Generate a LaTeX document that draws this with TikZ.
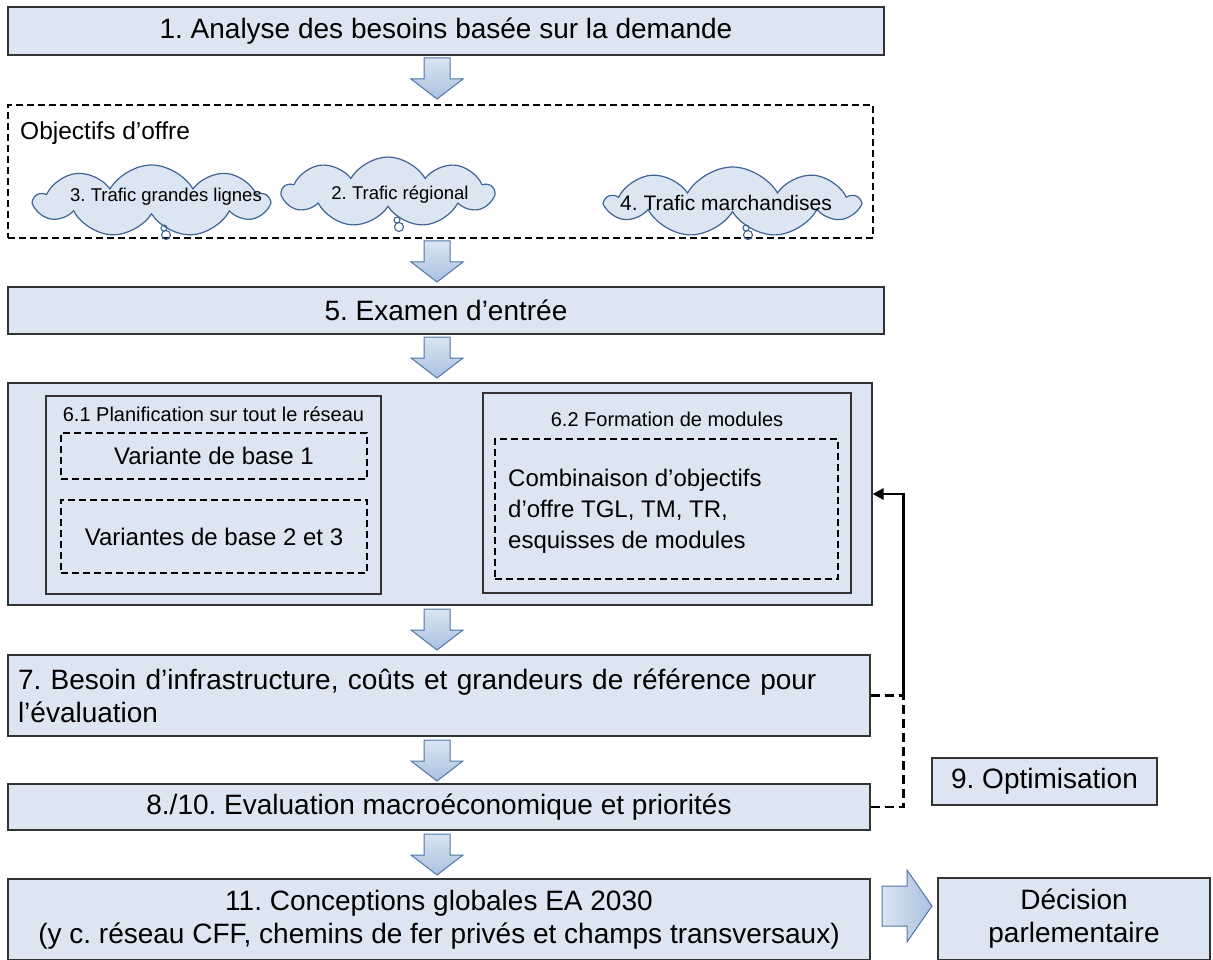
\documentclass[tikz,border=0pt]{standalone}
\usepackage{fontspec}
\setmainfont{Liberation Sans}
\frenchspacing
\usetikzlibrary{shapes.symbols,arrows.meta,calc}
\definecolor{boxfill}{HTML}{DCE6F2}
\definecolor{boxline}{HTML}{333333}
\definecolor{arrline}{HTML}{4F76A8}
\definecolor{arrtop}{HTML}{DAE5F2}
\definecolor{arrbot}{HTML}{A9C1DF}
\definecolor{cloudline}{HTML}{3E6496}
\tikzset{
  box/.style={draw=boxline, line width=1.2pt, fill=boxfill, inner sep=0pt, align=center,
    font=\fontsize{28}{33}\selectfont},
  inbox/.style={draw=boxline, line width=1.2pt, inner sep=0pt},
  dbox/.style={draw=black, line width=1.5pt, dash pattern=on 7pt off 4pt, inner sep=0pt, align=center,
    font=\fontsize{24}{31}\selectfont},
  lbl/.style={inner sep=0pt, font=\fontsize{20}{24}\selectfont},
  blockarrow/.style={draw=arrline, line width=1pt, line join=miter},
  cloudsh/.style={cloud, cloud puffs=9, cloud puff arc=120, cloud ignores aspect, draw=cloudline,
    line width=1.2pt, fill=boxfill, inner sep=0pt},
  cloudtxt/.style={inner sep=0pt, font=\fontsize{18.5}{22}\selectfont},
  bubble/.style={draw=cloudline, line width=1.1pt},
  fb/.style={line width=2.8pt, black},
  fbdash/.style={line width=2.8pt, black, dash pattern=on 9pt off 5pt},
}
\newcommand\blockdown[2]{%
  \path[blockarrow, top color=arrtop, bottom color=arrbot]
    (#1-13,#2) -- (#1+13,#2) -- (#1+13,#2+21) -- (#1+26,#2+21) -- (#1,#2+41)
    -- (#1-26,#2+21) -- (#1-13,#2+21) -- cycle;}
\begin{document}
\begin{tikzpicture}[x=1pt,y=-1pt]
\useasboundingbox (0,0) rectangle (1213,960);

% main boxes
\node[box, minimum width=876pt, minimum height=48pt] (b1) at (446,31) {1. Analyse des besoins basée sur la demande};

\node[dbox, minimum width=865pt, minimum height=133pt] (obj) at (440.5,171.5) {};
\node[inner sep=0pt, anchor=west, font=\fontsize{24.5}{28}\selectfont] (objt) at (20,133) {Objectifs d’offre};

% clouds
\node[cloudsh, minimum width=233pt, minimum height=72pt] (c1) at (151.5,201) {};
\node[cloudsh, minimum width=210pt, minimum height=70pt] (c2) at (388,192) {};
\node[cloudsh, minimum width=251pt, minimum height=70pt] (c3) at (732.5,202) {};
\draw[bubble] (164,228) circle[radius=3pt] (166,235) circle[radius=4.5pt];
\draw[bubble] (397,220) circle[radius=3pt] (399,227) circle[radius=4.5pt];
\draw[bubble] (746,228) circle[radius=3pt] (748,235) circle[radius=4.5pt];
\node[cloudtxt] (t1) at (166,197) {3. Trafic grandes lignes};
\node[cloudtxt] (t2) at (400,195) {2. Trafic régional};
\node[cloudtxt, font=\fontsize{21}{24}\selectfont] (t3) at (726,203) {4. Trafic marchandises};

\node[box, minimum width=876pt, minimum height=47pt] (b5) at (446,310.5) {5. Examen d’entrée};

% box 6
\node[box, minimum width=864pt, minimum height=222pt] (b6) at (440,494) {};
\node[inbox, minimum width=335pt, minimum height=198pt] (b61) at (213.5,495) {};
\node[inbox, minimum width=368pt, minimum height=200pt] (b62) at (667,493) {};
\node[lbl] (l61) at (213.5,414) {6.1 Planification sur tout le réseau};
\node[lbl] (l62) at (667,419) {6.2 Formation de modules};
\node[dbox, minimum width=306pt, minimum height=46pt] (v1) at (214,456) {Variante de base 1};
\node[dbox, minimum width=306pt, minimum height=73pt] (v23) at (214,536.5) {Variantes de base 2 et 3};
\node[dbox, minimum width=343pt, minimum height=140pt] (comb) at (666.5,509) {};
\node[inner sep=0pt, anchor=west, align=left, font=\fontsize{24}{31}\selectfont] (combt) at (508,511)
  {Combinaison d’objectifs\\d’offre TGL, TM, TR,\\esquisses de modules};

\node[box, minimum width=862pt, minimum height=81pt, text width=842pt, align=left] (b7) at (439,695.5)
  {7. Besoin d’infrastructure, coûts et grandeurs de référence pour\\l’évaluation};
\node[box, minimum width=862pt, minimum height=46pt] (b8) at (439,807) {8./10. Evaluation macroéconomique et priorités};
\node[box, minimum width=862pt, minimum height=81pt] (b11) at (439,919.5)
  {11. Conceptions globales EA 2030\\(y c. réseau CFF, chemins de fer privés et champs transversaux)};
\node[box, minimum width=225pt, minimum height=47pt] (b9) at (1044.5,781.5) {9. Optimisation};
\node[box, minimum width=272pt, minimum height=82pt] (dec) at (1074,919) {Décision\\parlementaire};

% block arrows
\blockdown{437}{58}
\blockdown{437}{241}
\blockdown{437}{337}
\blockdown{437}{609}
\blockdown{437}{740}
\blockdown{437}{834}
\path[blockarrow, left color=arrtop, right color=arrbot]
  (882,886) -- (907,886) -- (907,870) -- (932,906) -- (907,942) -- (907,926) -- (882,926) -- cycle;

% feedback connector
\coordinate (j7) at ($(b7.east)+(33,0)$);
\coordinate (j8) at ($(b8.east)+(33,0)$);
\draw[fbdash] (b7.east) -- (j7);
\draw[fbdash] (b8.east) -- (j8) -- (j7);
\draw[fb, -{Triangle[length=11pt,width=11pt]}] (j7) |- (b6.east);
\end{tikzpicture}
\end{document}
